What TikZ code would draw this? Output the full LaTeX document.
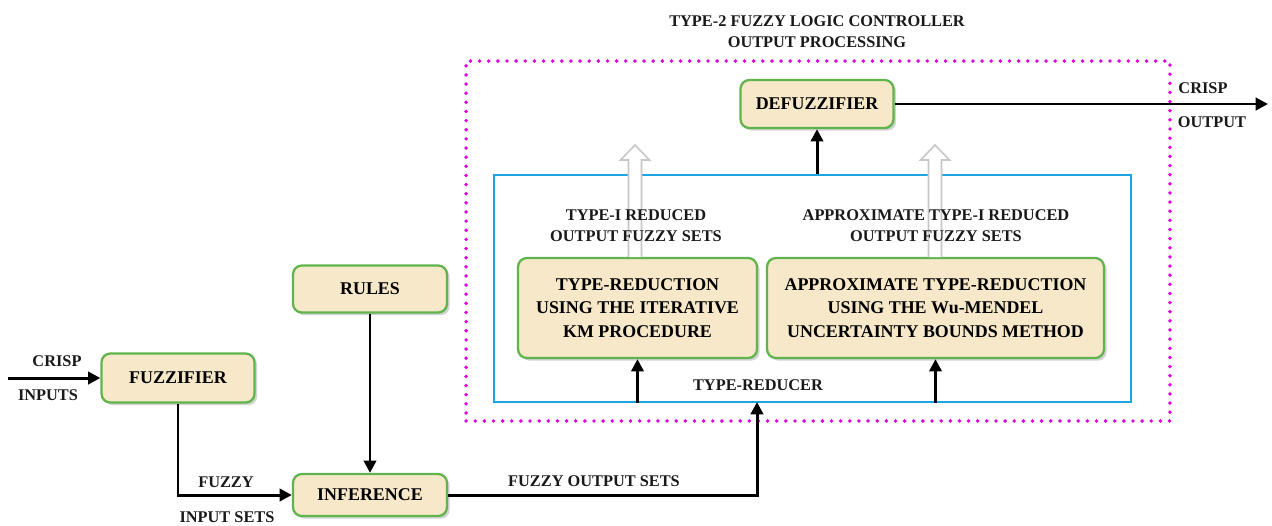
\documentclass[tikz,border=0pt]{standalone}
\usepackage{fontspec}
\setmainfont{Liberation Serif}
\usetikzlibrary{shadows,arrows.meta,calc}
\definecolor{boxfill}{RGB}{246,232,200}
\definecolor{boxline}{RGB}{95,180,75}
\definecolor{mag}{RGB}{225,0,225}
\definecolor{tblue}{RGB}{30,165,225}
\tikzset{
  blk/.style={draw=boxline, line width=1.3pt, fill=boxfill, rounded corners=5pt,
    font=\fontsize{10.2}{13.4}\selectfont\bfseries, align=center, inner sep=2pt,
    drop shadow={shadow xshift=1.5pt, shadow yshift=-1.5pt, fill=black!35, opacity=0.5}},
  lbl/.style={font=\fontsize{9.3}{12}\selectfont\bfseries, align=center, text=black!90, inner sep=0pt},
  conn/.style={line width=1.7pt, -{Triangle[length=7pt,width=7pt]}},
  hol/.style={draw=black!22, fill=white, line width=0.9pt, line join=miter}
}
\begin{document}
\begin{tikzpicture}[x=0.02cm,y=-0.02cm]
\useasboundingbox (0,0) rectangle (1272,525);
% frames
\node[draw=mag, line width=2.2pt, dash pattern=on 0pt off 5.2pt, line cap=round,
  minimum width=14.08cm, minimum height=7.2cm, inner sep=0pt] (flc) at (818,241) {};
\node[draw=tblue, line width=1.6pt, minimum width=12.74cm, minimum height=4.54cm, inner sep=0pt] (tred) at (812.5,288.5) {};
\node[lbl] (title) at (817,32) {TYPE-2 FUZZY LOGIC CONTROLLER\\OUTPUT PROCESSING};
% boxes
\node[blk, minimum width=3.06cm, minimum height=0.98cm] (fuz) at (178,378) {FUZZIFIER};
\node[blk, minimum width=3.08cm, minimum height=0.84cm] (inf) at (370,495) {INFERENCE};
\node[blk, minimum width=3.08cm, minimum height=0.94cm] (rules) at (370,289) {RULES};
\node[blk, minimum width=3.06cm, minimum height=0.96cm] (defuz) at (817,104) {DEFUZZIFIER};
\node[blk, minimum width=4.78cm, minimum height=2.0cm] (tr1) at (637.5,308) {TYPE-REDUCTION\\USING THE ITERATIVE\\KM PROCEDURE};
\node[blk, minimum width=6.74cm, minimum height=2.0cm] (tr2) at (935.5,308) {APPROXIMATE TYPE-REDUCTION\\USING THE Wu-MENDEL\\UNCERTAINTY BOUNDS METHOD};
% hollow arrows
\foreach \n/\xx in {h1/635,h2/935}{
  \draw[hol] (\xx-6.5,257) -- (\xx-6.5,160) -- (\xx-14.5,160) -- (\xx,145) -- (\xx+14.5,160) -- (\xx+6.5,160) -- (\xx+6.5,257);
}
% labels
\node[lbl] (l1) at (636,226) {TYPE-I REDUCED\\OUTPUT FUZZY SETS};
\node[lbl] (l2) at (936,226) {APPROXIMATE TYPE-I REDUCED\\OUTPUT FUZZY SETS};
\node[lbl] (ltr) at (758,385) {TYPE-REDUCER};
\node[lbl] (lci) at (57,361) {CRISP};
\node[lbl] (lin) at (48,395) {INPUTS};
\node[lbl] (lfz) at (226,482) {FUZZY};
\node[lbl] (lis) at (227,517) {INPUT SETS};
\node[lbl] (lfo) at (594,481) {FUZZY OUTPUT SETS};
\node[lbl] (lco) at (1203,88) {CRISP};
\node[lbl] (lou) at (1212,122) {OUTPUT};
% connectors
\coordinate (cin) at (8,378);
\coordinate (cout) at (1268,104);
\coordinate (trin) at (757,402);
\draw[conn] (cin) -- (fuz.west);
\draw[conn] (fuz.south) |- (inf.west);
\draw[conn] (rules.south) -- (inf.north);
\draw[conn] (inf.east) -| (trin);
\draw[conn] (tr1.south |- tred.south) -- (tr1.south);
\draw[conn] (tr2.south |- tred.south) -- (tr2.south);
\draw[conn] (defuz.south |- tred.north) -- (defuz.south);
\draw[conn] (defuz.east) -- (cout);
\end{tikzpicture}
\end{document}
